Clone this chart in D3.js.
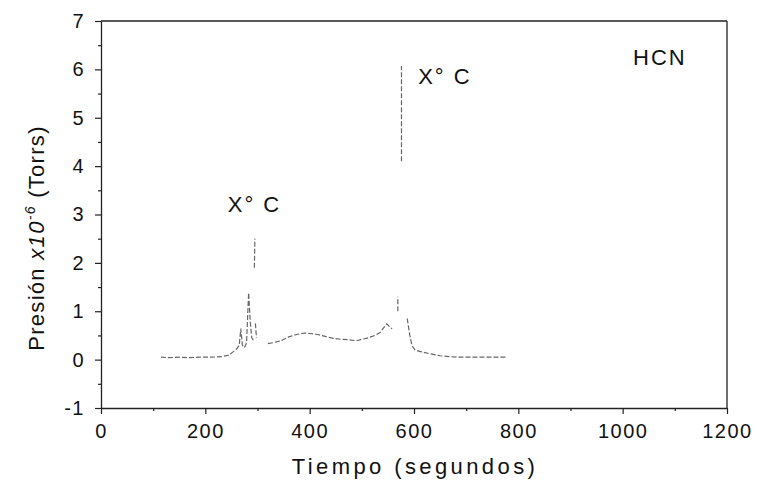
<!DOCTYPE html>
<html>
<head>
<meta charset="utf-8">
<script src="https://cdn.jsdelivr.net/npm/d3@7"></script>
<style>
  body { margin: 0; background: #fff; }
  text { font-family: "Liberation Sans", Arial, sans-serif; fill: #111; }
</style>
</head>
<body>
<div id="chart"></div>
<script>
// time (s) and pressure (x10^-6 Torr); null marks a break in the trace
var time = [115, 130, 150, 170, 190, 210, 230, 245, 252, 260, 265, 268, 271, 275, 279, 283, 286, 289, 292, null,
            294, 295, null,
            296, 298, null,
            320, 330, 345, 360, 375, 390, 400, 415, 430, 445, 460, 475, 490, 500, 512, 525, 535, 542, 548, 553, 558, null,
            569, 569, null,
            576, 576, null,
            587, 592, 596, 602, 611, 631, 650, 670, 688, 705, 726, 745, 765, 778];
var pressure = [0.05, 0.04, 0.05, 0.04, 0.05, 0.05, 0.06, 0.09, 0.15, 0.22, 0.3, 0.64, 0.3, 0.25, 0.35, 1.38, 0.8, 0.45, 0.4, null,
                1.9, 2.5, null,
                0.75, 0.45, null,
                0.33, 0.35, 0.39, 0.47, 0.52, 0.55, 0.54, 0.52, 0.48, 0.44, 0.42, 0.41, 0.39, 0.42, 0.45, 0.5, 0.56, 0.66, 0.74, 0.68, 0.64, null,
                1.0, 1.3, null,
                4.1, 6.07, null,
                0.85, 0.5, 0.29, 0.2, 0.17, 0.12, 0.08, 0.06, 0.05, 0.05, 0.05, 0.05, 0.05, 0.05];

var xTicks = [0, 200, 400, 600, 800, 1000, 1200];
var xMinor = [100, 300, 500, 700, 900, 1100];
var yTicks = [-1, 0, 1, 2, 3, 4, 5, 6, 7];
var yMinor = [-0.5, 0.5, 1.5, 2.5, 3.5, 4.5, 5.5, 6.5];

var labels = [
  { t: 243, p: 3.05, text: "X° C" },
  { t: 608, p: 5.7, text: "X° C" },
  { t: 1020, p: 6.1, text: "HCN" }
];

var width = 758, height = 487;
var svg = d3.select("#chart").append("svg")
  .attr("width", width)
  .attr("height", height);

var x = d3.scaleLinear().domain([0, 1200]).range([101, 727]);
var y = d3.scaleLinear().domain([-1, 7]).range([408, 21]);

// frame: top and right lines
svg.append("line")
  .attr("x1", x(0)).attr("x2", x(1200))
  .attr("y1", y(7)).attr("y2", y(7))
  .style("stroke", "#222").style("stroke-width", "1.3px");
svg.append("line")
  .attr("x1", x(1200)).attr("x2", x(1200))
  .attr("y1", y(7)).attr("y2", y(-1))
  .style("stroke", "#222").style("stroke-width", "1.3px");

// bottom axis
svg.append("g")
  .attr("transform", "translate(0," + y(-1) + ")")
  .call(d3.axisBottom(x).tickValues(xTicks).tickSize(6).tickSizeOuter(0).tickPadding(10)
    .tickFormat(d3.format("d")));
svg.append("g")
  .attr("transform", "translate(0," + y(-1) + ")")
  .call(d3.axisBottom(x).tickValues(xMinor).tickSize(3).tickFormat(""))
  .select(".domain").remove();

// left axis
svg.append("g")
  .attr("transform", "translate(" + x(0) + ",0)")
  .call(d3.axisLeft(y).tickValues(yTicks).tickSize(6).tickSizeOuter(0).tickPadding(10)
    .tickFormat(function(d) { return d < 0 ? "-" + Math.abs(d) : d; }));
svg.append("g")
  .attr("transform", "translate(" + x(0) + ",0)")
  .call(d3.axisLeft(y).tickValues(yMinor).tickSize(3).tickFormat(""))
  .select(".domain").remove();

svg.selectAll(".domain").style("stroke", "#222").style("stroke-width", "1.3px");
svg.selectAll(".tick line").style("stroke", "#222").style("stroke-width", "1.2px");
svg.selectAll(".tick text")
  .attr("font-size", 20)
  .style("letter-spacing", "1.5px")
  .style("font-family", "'Liberation Sans', Arial, sans-serif")
  .style("fill", "#111");

// the trace
var pts = time.map(function(t, i) { return { t: t, p: pressure[i] }; });
var line = d3.line()
  .defined(function(d) { return d.t != null && d.p != null; })
  .x(function(d) { return x(d.t); })
  .y(function(d) { return y(d.p); });

svg.append("path")
  .datum(pts)
  .attr("d", line)
  .style("fill", "none")
  .style("stroke", "#666")
  .style("stroke-width", "1.2px")
  .style("stroke-dasharray", "5,2");

// annotations
svg.selectAll("text.note")
  .data(labels)
  .enter()
  .append("text")
  .attr("class", "note")
  .attr("x", function(d) { return x(d.t); })
  .attr("y", function(d) { return y(d.p); })
  .attr("font-size", 22)
  .style("letter-spacing", "2px")
  .text(function(d) { return d.text; });

// axis titles
svg.append("text")
  .attr("x", 415)
  .attr("y", 474)
  .attr("font-size", 22)
  .attr("text-anchor", "middle")
  .style("letter-spacing", "3.4px")
  .text("Tiempo (segundos)");

var yl = svg.append("text")
  .attr("transform", "translate(44,238) rotate(-90)")
  .attr("font-size", 22)
  .attr("text-anchor", "middle")
  .style("letter-spacing", "1.3px");
yl.append("tspan").text("Presión ");
yl.append("tspan").style("font-style", "italic").text("x10");
yl.append("tspan").attr("font-size", 14).attr("dy", -9).style("font-style", "italic").text("-6");
yl.append("tspan").attr("dy", 9).text(" (Torrs)");
</script>
</body>
</html>
